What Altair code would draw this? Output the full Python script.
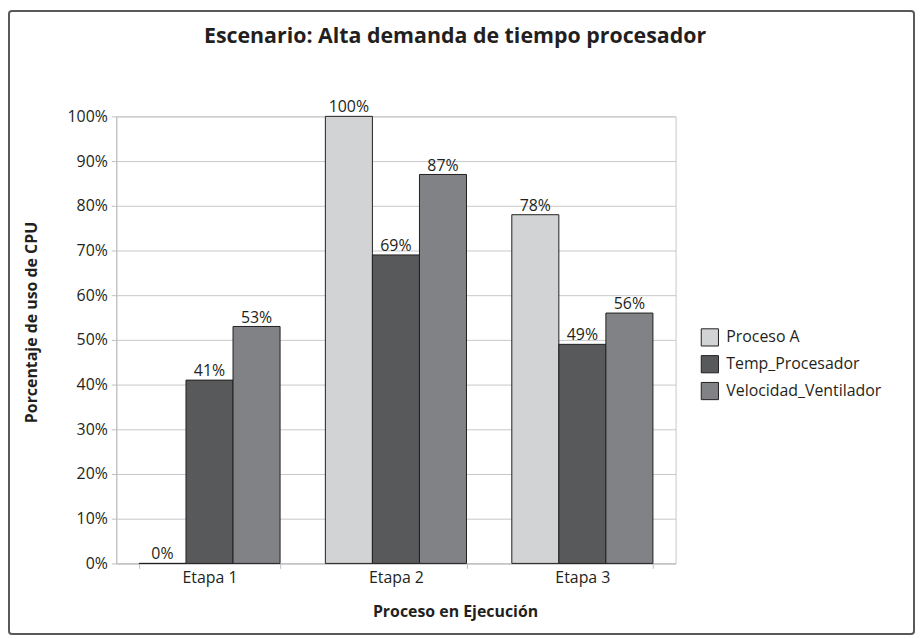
import altair as alt
import pandas as pd

etapas = ["Etapa 1", "Etapa 2", "Etapa 3"]
series = ["Proceso A", "Temp_Procesador", "Velocidad_Ventilador"]
proceso_a = [0, 100, 78]
temp_procesador = [41, 69, 49]
velocidad_ventilador = [53, 87, 56]
colors = ["#d1d3d4", "#58595b", "#808285"]
y_ticks = list(range(0, 101, 10))
titulo = "Escenario: Alta demanda de tiempo procesador"

rows = []
for s, vals in zip(series, [proceso_a, temp_procesador, velocidad_ventilador]):
    for e, v in zip(etapas, vals):
        rows.append({"Etapa": e, "Serie": s, "Valor": v, "Etiqueta": f"{v}%"})
df = pd.DataFrame(rows)

FONT = "Open Sans"
INK = "#231f20"
W, H = 563, 450

x_enc = alt.X(
    "Etapa:N",
    sort=etapas,
    scale=alt.Scale(paddingInner=0.243, paddingOuter=0.1215),
    axis=alt.Axis(
        title="Proceso en Ejecución",
        labelAngle=0,
        tickBand="extent",
        tickSize=5,
        labelBaseline="alphabetic",
        labelPadding=14,
        titleX=341,
        titleY=53,
        titleBaseline="alphabetic",
        titleAlign="center",
        grid=False,
    ),
)
y_enc = alt.Y(
    "Valor:Q",
    scale=alt.Scale(domain=[0, 100], nice=False),
    axis=alt.Axis(
        values=y_ticks,
        labelExpr="datum.value + '%'",
        title="Porcentaje de uso de CPU",
        titleX=-85,
        titleY=207,
        titleAngle=270,
        titleAlign="center",
        titleBaseline="middle",
        tickSize=5,
        labelPadding=4,
        grid=True,
    ),
)
xoff = alt.XOffset("Serie:N", sort=series)

base = alt.Chart(df).encode(x=x_enc, xOffset=xoff, y=y_enc)

bars = base.mark_bar(stroke=INK, strokeWidth=1).encode(
    color=alt.Color(
        "Serie:N",
        sort=series,
        scale=alt.Scale(domain=series, range=colors),
        legend=alt.Legend(
            title=None,
            orient="none",
            legendX=588,
            legendY=213,
            symbolType="square",
            symbolSize=300,
            symbolStrokeColor=INK,
            symbolStrokeWidth=1,
            symbolOpacity=1,
            labelFont=FONT,
            labelFontSize=16,
            labelColor=INK,
            labelOffset=7,
            rowPadding=4,
        ),
    )
)

labels = base.mark_text(
    baseline="alphabetic", dy=-4, font=FONT, fontSize=16, color=INK
).encode(text="Etiqueta:N")

border = alt.Chart(pd.DataFrame({"k": [0]})).mark_rect(
    filled=False, stroke="#58595b", strokeWidth=2, cornerRadius=3
).encode(
    x=alt.value(-108), x2=alt.value(W + 240), y=alt.value(-106), y2=alt.value(H + 71)
)

title_mark = alt.Chart(pd.DataFrame({"t": [titulo]})).mark_text(
    font=FONT, fontSize=21.5, fontWeight="bold", color=INK,
    align="center", baseline="alphabetic",
).encode(text="t:N", x=alt.value(341), y=alt.value(-74))

chart = (
    alt.layer(border, bars, labels, title_mark)
    .properties(
        width=W,
        height=H,
        autosize="none",
        padding={"left": 109, "top": 107, "right": 241, "bottom": 72},
    )
    .configure_axis(
        labelFont=FONT,
        labelFontSize=16,
        labelColor=INK,
        titleFont=FONT,
        titleFontSize=16,
        titleFontWeight="bold",
        titleColor=INK,
        domainColor="#bcbec0",
        tickColor="#bcbec0",
        gridColor="#c8c8ca",
        gridWidth=1,
    )
    .configure_view(stroke="#c8c8ca")
)

chart.save("out.html", embed_options={"renderer": "svg", "actions": False})
